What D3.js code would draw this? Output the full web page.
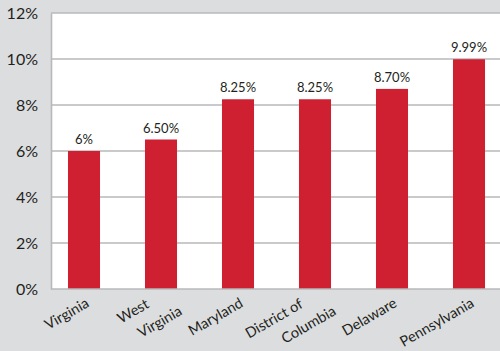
<!DOCTYPE html>
<html>
<head>
<meta charset="utf-8">
<script src="https://cdn.jsdelivr.net/npm/d3@7"></script>
<style>
  html, body { margin: 0; padding: 0; background: #dcdddf; }
  svg { display: block; }
  text { font-family: Lato, "Open Sans", sans-serif; fill: #231f20; }
</style>
</head>
<body>
<svg id="chart" width="500" height="351"></svg>
<script>
// Sales tax rates by jurisdiction
const categories = [
  ["Virginia"],
  ["West", "Virginia"],
  ["Maryland"],
  ["District of", "Columbia"],
  ["Delaware"],
  ["Pennsylvania"]
];
const values = [6, 6.5, 8.25, 8.25, 8.7, 9.99];
const valueLabels = ["6%", "6.50%", "8.25%", "8.25%", "8.70%", "9.99%"];
const yTicks = [0, 2, 4, 6, 8, 10, 12];

const plot = { left: 51, right: 500, top: 13, bottom: 289 };
const svg = d3.select("#chart");

const keys = categories.map((c, i) => i);
const x = d3.scaleBand()
  .domain(keys)
  .range([45.5, 507.5])
  .paddingInner(0.584)
  .paddingOuter(0.292);

const y = d3.scaleLinear().domain([0, 12]).range([plot.bottom, plot.top]);

// plot background
svg.append("rect")
  .attr("x", plot.left).attr("y", plot.top)
  .attr("width", plot.right - plot.left)
  .attr("height", plot.bottom - plot.top)
  .attr("fill", "#ffffff");

// horizontal gridlines
svg.append("g")
  .selectAll("line")
  .data(yTicks.filter(d => d > 0))
  .join("line")
  .attr("x1", plot.left).attr("x2", plot.right)
  .attr("y1", d => y(d)).attr("y2", d => y(d))
  .attr("stroke", "#b7b8ba")
  .attr("stroke-width", 1.4);

// y axis
const yAxis = svg.append("g")
  .attr("transform", `translate(${plot.left},0)`)
  .call(d3.axisLeft(y).tickValues(yTicks).tickSize(0).tickPadding(13).tickFormat(d => d + "%"));
yAxis.select(".domain").attr("stroke", "#b7b8ba").attr("stroke-width", 1.6);
yAxis.selectAll("text")
  .attr("font-size", 16)
  .attr("fill", "#231f20")
  .style("font-family", "Lato, sans-serif");

// bars
svg.append("g")
  .selectAll("rect")
  .data(values)
  .join("rect")
  .attr("x", (d, i) => x(i))
  .attr("width", x.bandwidth())
  .attr("y", d => y(d))
  .attr("height", d => y(0) - y(d))
  .attr("fill", "#cf2032");

// value labels
svg.append("g")
  .selectAll("text")
  .data(values)
  .join("text")
  .attr("x", (d, i) => x(i) + x.bandwidth() / 2)
  .attr("y", d => y(d) - 7)
  .attr("text-anchor", "middle")
  .attr("font-size", 13)
  .text((d, i) => valueLabels[i]);

// x axis baseline
svg.append("line")
  .attr("x1", plot.left).attr("x2", plot.right)
  .attr("y1", plot.bottom).attr("y2", plot.bottom)
  .attr("stroke", "#b7b8ba")
  .attr("stroke-width", 1.6);

// rotated category labels, anchored at the end of each line
const angle = -30;
const catG = svg.append("g");
categories.forEach((lines, i) => {
  const cx = x(i) + x.bandwidth() / 2;
  lines.forEach((line, j) => {
    let dx, yy;
    if (lines.length === 1) { dx = 6; yy = 306; }
    else if (j === 0) { dx = -11; yy = 307; }
    else { dx = 22; yy = 314; }
    catG.append("text")
      .attr("transform", `translate(${cx + dx},${yy}) rotate(${angle})`)
      .attr("text-anchor", "end")
      .attr("font-size", 14.5)
      .text(line);
  });
});
</script>
</body>
</html>
